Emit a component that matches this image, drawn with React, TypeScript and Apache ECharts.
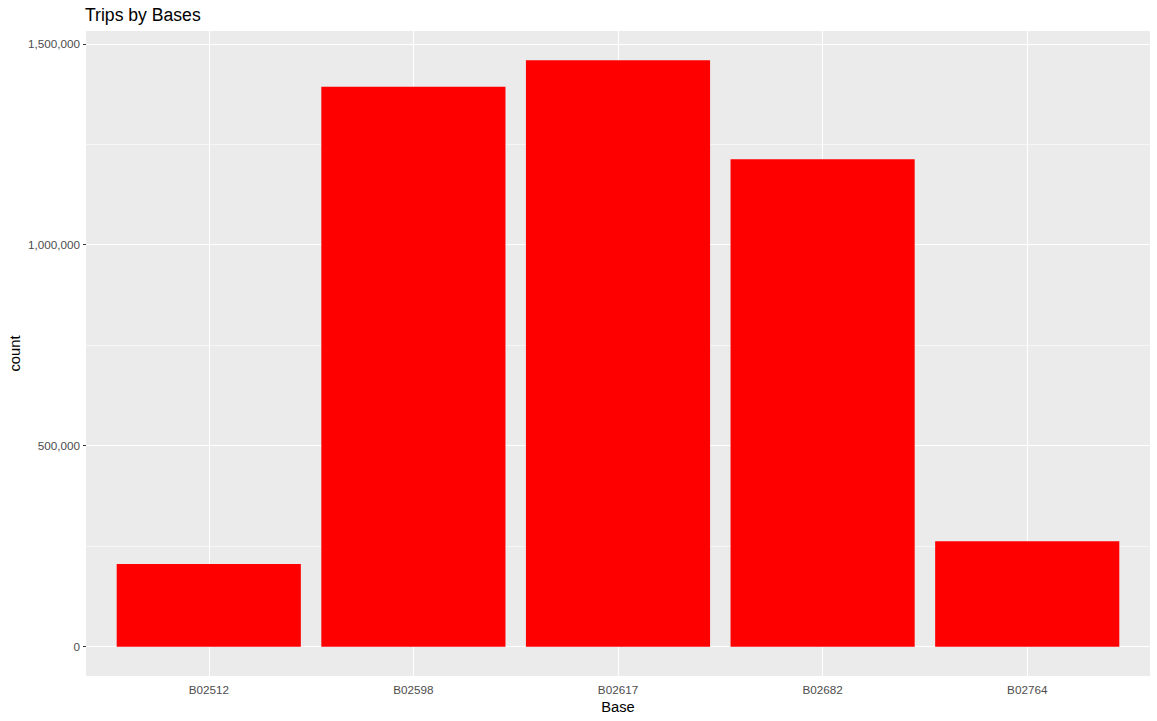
import React, { useEffect, useRef } from "react";
import * as echarts from "echarts";

const bases = ["B02512", "B02598", "B02617", "B02682", "B02764"];
const counts = [205673, 1393113, 1458853, 1212789, 262520];
const majorTicks = [0, 500000, 1000000, 1500000];
const minorTicks = [250000, 750000, 1250000];
const xPositions = [1, 2, 3, 4, 5];

const GRID_LEFT = 86;
const GRID_TOP = 31;
const GRID_W = 1064;
const GRID_H = 645;

export default function App() {
  const ref = useRef<HTMLDivElement>(null);
  useEffect(() => {
    if (!ref.current) return;
    const chart = echarts.init(ref.current, undefined, { renderer: "svg" });
    const maxV = Math.max(...counts);
    const yMin = -0.05 * maxV;
    const yMax = maxV * 1.05;
    const unitPx = GRID_W / (bases.length - 1 + 1.2);
    const font = "Liberation Sans, Arial, sans-serif";
    chart.setOption({
      animation: false,
      backgroundColor: "#FFFFFF",
      title: {
        text: "Trips by Bases",
        left: GRID_LEFT - 1,
        top: 6,
        padding: 0,
        textStyle: { fontFamily: font, fontSize: 17.6, fontWeight: "normal", color: "#000" },
      },
      grid: {
        left: GRID_LEFT,
        top: GRID_TOP,
        width: GRID_W,
        height: GRID_H,
        show: true,
        backgroundColor: "#EBEBEB",
        borderWidth: 0,
        containLabel: false,
        outerBoundsMode: "none",
      },
      xAxis: {
        type: "value",
        min: 0.4,
        max: bases.length + 0.6,
        name: "Base",
        nameLocation: "middle",
        nameGap: 23,
        nameMoveOverlap: false,
        nameTextStyle: { fontFamily: font, fontSize: 14.7, color: "#000" },
        axisLine: { show: false },
        axisTick: { show: true, customValues: xPositions, length: 3, lineStyle: { color: "#333333", width: 1 } },
        axisLabel: {
          customValues: xPositions,
          formatter: (v: number) => bases[Math.round(v) - 1] ?? "",
          fontFamily: font,
          fontSize: 11.7,
          color: "#4D4D4D",
          margin: 7,
        },
        splitLine: { show: false },
      },
      yAxis: {
        type: "value",
        min: yMin,
        max: yMax,
        name: "count",
        nameLocation: "middle",
        nameGap: 64,
        nameMoveOverlap: false,
        nameRotate: 90,
        nameTextStyle: { fontFamily: font, fontSize: 14.7, color: "#000" },
        axisLine: { show: false },
        axisTick: { show: true, customValues: majorTicks, length: 3, lineStyle: { color: "#333333", width: 1 } },
        axisLabel: {
          customValues: majorTicks,
          formatter: (v: number) => Math.round(v).toLocaleString("en-US"),
          fontFamily: font,
          fontSize: 11.7,
          color: "#4D4D4D",
          margin: 6,
        },
        splitLine: { show: false },
      },
      series: [
        {
          type: "line",
          data: [],
          z: 1,
          silent: true,
          markLine: {
            silent: true,
            z: 1,
            symbol: "none",
            label: { show: false },
            animation: false,
            data: [
              ...minorTicks.map((v) => ({ yAxis: v, lineStyle: { color: "#FFFFFF", width: 0.55, type: "solid" } })),
              ...majorTicks.map((v) => ({ yAxis: v, lineStyle: { color: "#FFFFFF", width: 1.1, type: "solid" } })),
              ...xPositions.map((v) => ({ xAxis: v, lineStyle: { color: "#FFFFFF", width: 1.1, type: "solid" } })),
            ],
          },
        },
        {
          type: "bar",
          z: 3,
          barWidth: unitPx * 0.9,
          itemStyle: { color: "#FF0000" },
          data: counts.map((c, i) => [i + 1, c]),
        },
      ],
    });
    return () => chart.dispose();
  }, []);
  return <div ref={ref} style={{ width: 1157, height: 721, position: "absolute", left: 0, top: 0 }} />;
}
